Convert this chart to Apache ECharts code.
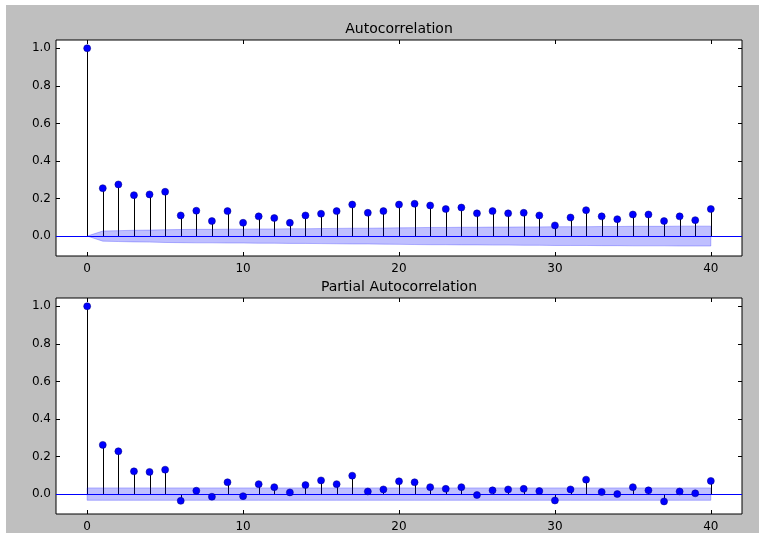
<!DOCTYPE html>
<html>
<head>
<meta charset="utf-8">
<script src="https://cdn.jsdelivr.net/npm/echarts@6/dist/echarts.min.js"></script>
<style>
html,body{margin:0;padding:0;background:#fff;}
#chart{width:764px;height:538px;}
</style>
</head>
<body>
<div id="chart"></div>
<script>
const lags = [0,1,2,3,4,5,6,7,8,9,10,11,12,13,14,15,16,17,18,19,20,21,22,23,24,25,26,27,28,29,30,31,32,33,34,35,36,37,38,39,40];
const acfValues = [1.0,0.255,0.275,0.218,0.222,0.236,0.110,0.135,0.080,0.133,0.071,0.105,0.096,0.071,0.110,0.119,0.133,0.168,0.124,0.133,0.168,0.172,0.163,0.144,0.152,0.121,0.133,0.121,0.124,0.110,0.057,0.099,0.138,0.105,0.090,0.115,0.115,0.080,0.105,0.085,0.144];
const acfConf = [0,0.027,0.029,0.031,0.032,0.034,0.035,0.036,0.036,0.037,0.037,0.038,0.038,0.039,0.039,0.040,0.041,0.042,0.042,0.043,0.044,0.045,0.046,0.046,0.047,0.047,0.048,0.048,0.049,0.049,0.050,0.050,0.050,0.051,0.051,0.052,0.052,0.052,0.053,0.053,0.053];
const pacfValues = [1.0,0.262,0.228,0.121,0.118,0.130,-0.036,0.018,-0.014,0.063,-0.011,0.053,0.037,0.009,0.048,0.073,0.053,0.098,0.014,0.025,0.068,0.063,0.037,0.028,0.037,-0.005,0.020,0.025,0.028,0.016,-0.034,0.025,0.077,0.011,0.000,0.037,0.020,-0.039,0.014,0.004,0.070];
const pacfConf = [0.033,0.033,0.033,0.033,0.033,0.033,0.033,0.033,0.033,0.033,0.033,0.033,0.033,0.033,0.033,0.033,0.033,0.033,0.033,0.033,0.033,0.033,0.033,0.033,0.033,0.033,0.033,0.033,0.033,0.033,0.033,0.033,0.033,0.033,0.033,0.033,0.033,0.033,0.033,0.033,0.033];
const xTicks = [0,10,20,30,40];
const yTicks = [0,0.2,0.4,0.6,0.8,1.0];
const titles = ['Autocorrelation','Partial Autocorrelation'];

const FONT = 'DejaVu Sans';
const grids = [
  {left:56, top:40, width:686, height:216},
  {left:56, top:298, width:686, height:216}
];

function xAxes(gi){
  const common = {gridIndex:gi, type:'value', min:-2, max:42, splitLine:{show:false},
    axisLine:{show:false, onZero:false}};
  return [
    Object.assign({}, common, {position:'bottom',
      axisTick:{show:true, inside:true, length:4, customValues:xTicks, lineStyle:{color:'#000'}},
      axisLabel:{show:true, customValues:xTicks, color:'#000', fontFamily:FONT, fontSize:12, margin:7}}),
    Object.assign({}, common, {position:'top',
      axisTick:{show:true, inside:true, length:4, customValues:xTicks, lineStyle:{color:'#000'}},
      axisLabel:{show:false}})
  ];
}
function yAxes(gi){
  const common = {gridIndex:gi, type:'value', min:-0.106, max:1.044, splitLine:{show:false},
    axisLine:{show:false, onZero:false}};
  return [
    Object.assign({}, common, {position:'left',
      axisTick:{show:true, inside:true, length:4, customValues:yTicks, lineStyle:{color:'#000'}},
      axisLabel:{show:true, customValues:yTicks, color:'#000', fontFamily:FONT, fontSize:12, margin:5,
        formatter:v=>Number(v).toFixed(1)}}),
    Object.assign({}, common, {position:'right',
      axisTick:{show:true, inside:true, length:4, customValues:yTicks, lineStyle:{color:'#000'}},
      axisLabel:{show:false}})
  ];
}

function bandSeries(gi, conf){
  return {
    type:'custom', xAxisIndex:gi*2, yAxisIndex:gi*2, z:3, silent:true,
    data: lags.map((l,i)=>[l, conf[i]]),
    renderItem:function(params, api){
      if (params.dataIndex !== 0) return null;
      const pts = [];
      for (let i=0;i<lags.length;i++) pts.push(api.coord([lags[i], conf[i]]));
      for (let i=lags.length-1;i>=0;i--) pts.push(api.coord([lags[i], -conf[i]]));
      return {type:'polygon', shape:{points:pts},
        style:{fill:'rgba(0,0,255,0.25)', stroke:'rgba(0,0,255,0.25)', lineWidth:1}};
    }
  };
}
function stemSeries(gi, vals){
  return {
    type:'custom', xAxisIndex:gi*2, yAxisIndex:gi*2, z:2, silent:true,
    data: lags.map((l,i)=>[l, vals[i]]),
    renderItem:function(params, api){
      const p0 = api.coord([api.value(0), 0]);
      const p1 = api.coord([api.value(0), api.value(1)]);
      const x = Math.round(p0[0]) + 0.5;
      return {type:'line', shape:{x1:x, y1:p0[1], x2:x, y2:p1[1]},
        style:{stroke:'#000', lineWidth:1}};
    }
  };
}
function dotSeries(gi, vals){
  return {
    type:'scatter', xAxisIndex:gi*2, yAxisIndex:gi*2, z:5, silent:true,
    symbol:'circle', symbolSize:7,
    itemStyle:{color:'#0000ff', borderColor:'#000080', borderWidth:0.5, opacity:1},
    data: lags.map((l,i)=>[l, vals[i]]),
    markLine:{silent:true, symbol:'none', label:{show:false}, animation:false,
      lineStyle:{color:'#0000ff', width:1, type:'solid'}, data:[{yAxis:0}]}
  };
}

const option = {
  animation:false,
  backgroundColor:'#ffffff',
  graphic:[{type:'rect', z:-10, silent:true, shape:{x:6, y:5, width:753, height:528}, style:{fill:'#bfbfbf'}}],
  title: titles.map((t,i)=>({
    text:t, left:grids[i].left + grids[i].width/2, textAlign:'center',
    top: grids[i].top - 18, padding:0,
    textStyle:{fontFamily:FONT, fontSize:14, fontWeight:'normal', color:'#000'}
  })),
  grid: grids.map(g=>Object.assign({show:true, backgroundColor:'#ffffff', borderColor:'#000', borderWidth:1}, g)),
  xAxis: xAxes(0).concat(xAxes(1)),
  yAxis: yAxes(0).concat(yAxes(1)),
  series:[
    stemSeries(0, acfValues), bandSeries(0, acfConf), dotSeries(0, acfValues),
    stemSeries(1, pacfValues), bandSeries(1, pacfConf), dotSeries(1, pacfValues)
  ]
};
const chart = echarts.init(document.getElementById('chart'), null, {renderer:'canvas'});
chart.setOption(option);
</script>
</body>
</html>
